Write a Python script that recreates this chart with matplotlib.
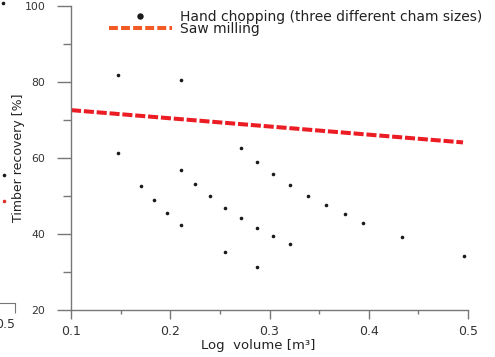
import numpy as np
import matplotlib.pyplot as plt
from matplotlib.lines import Line2D

plt.rcParams['font.family'] = ['DejaVu Sans']

# hand chopping: log volume [m3] vs timber recovery [%]
vol = [0.147, 0.211, 0.147,
       0.271, 0.287, 0.304, 0.321, 0.339, 0.357, 0.376, 0.394, 0.434, 0.496,
       0.211, 0.225, 0.240, 0.255, 0.271, 0.287, 0.304, 0.321,
       0.171, 0.184, 0.197, 0.211, 0.255, 0.287]
recovery = [81.8, 80.4, 61.3,
            62.6, 59.0, 55.9, 52.9, 50.1, 47.6, 45.2, 43.0, 39.1, 34.2,
            56.8, 53.2, 49.9, 46.9, 44.2, 41.7, 39.4, 37.3,
            52.6, 48.9, 45.6, 42.5, 35.2, 31.3]

# saw milling trend
saw_x = [0.1, 0.495]
saw_y = [72.6, 64.1]

xticks = [0.1, 0.2, 0.3, 0.4, 0.5]
xtick_labels = ['0.1', '0.2', '0.3', '0.4', '0.5']
xminor = [0.15, 0.25, 0.35, 0.45]
yticks = [20, 40, 60, 80, 100]
yminor = [30, 50, 70, 90]

# cut-off neighbour panel on the left edge
left_x = [0.482, 0.483]
left_y = [99.2, 53.8]
left_red_x = [0.483]
left_red_y = [46.9]

gray = '#777777'
red = '#ec1c24'
orange = '#f15a24'

fig = plt.figure(figsize=(4.95, 3.57), dpi=100)

# neighbour panel (only its right end is visible)
ax0 = fig.add_axes([-0.5, 54/357, 0.5 + 15/495, 1 - 54/357])
ax0.plot(left_x, left_y, 'o', color='#1a1a1a', ms=2.6, mec='none')
ax0.plot(left_red_x, left_red_y, 'o', color='#d9342b', ms=2.6, mec='none')
ax0.set_xlim(0.1, 0.5)
ax0.set_ylim(20, 100)
for s in ['top', 'right', 'left']:
    ax0.spines[s].set_visible(False)
ax0.spines['bottom'].set_color(gray)
ax0.set_yticks([])
ax0.set_xticks([0.5])
ax0.set_xticklabels(['0.5'], ha='right')
ax0.tick_params(axis='x', length=7, color=gray, labelsize=9, labelcolor='#333333', pad=4)

ax = fig.add_axes([71/495, 47/357, 397/495, 304/357])
ax.plot(saw_x, saw_y, color=red, lw=2.9, dashes=(2.5, 0.7))
ax.plot(vol, recovery, 'o', color='#1a1a1a', ms=2.6, mec='none')

ax.set_xlim(0.1, 0.5)
ax.set_ylim(20, 100)
ax.set_xticks(xticks)
ax.set_xticklabels(xtick_labels)
ax.set_xticks(xminor, minor=True)
ax.set_yticks(yticks)
ax.set_yticks(yminor, minor=True)

for s in ['top', 'right']:
    ax.spines[s].set_visible(False)
for s in ['left', 'bottom']:
    ax.spines[s].set_color(gray)
    ax.spines[s].set_linewidth(1)

ax.tick_params(axis='x', which='major', length=6.5, width=1, color=gray, pad=4.5,
               labelsize=9, labelcolor='#333333')
ax.tick_params(axis='x', which='minor', length=3, width=1, color=gray)
ax.tick_params(axis='y', which='major', length=10, width=1, color=gray, pad=8.5,
               labelsize=7.8, labelcolor='#333333')
ax.tick_params(axis='y', which='minor', length=5.8, width=1, color=gray)

ax.set_xlabel('Log  volume [m³]', fontsize=9.5, color='#222222')
ax.xaxis.set_label_coords(0.471, -0.095)
ax.set_ylabel('Timber recovery [%]', fontsize=9, color='#222222')
ax.yaxis.set_label_coords(-0.116, 0.5)

handles = [Line2D([], [], ls='none', marker='o', color='#1a1a1a', ms=3.6),
           Line2D([], [], color=orange, lw=2.9, dashes=(2.2, 0.8))]
ax.legend(handles, ['Hand chopping (three different cham sizes)', 'Saw milling'],
          loc='upper left', bbox_to_anchor=(109/495, 1 - 10/357),
          bbox_transform=fig.transFigure, frameon=False, fontsize=10,
          handlelength=4.5, handletextpad=0.6, labelspacing=-0.12,
          borderpad=0, borderaxespad=0, labelcolor='#222222')

fig.savefig('out.png', dpi=100)
